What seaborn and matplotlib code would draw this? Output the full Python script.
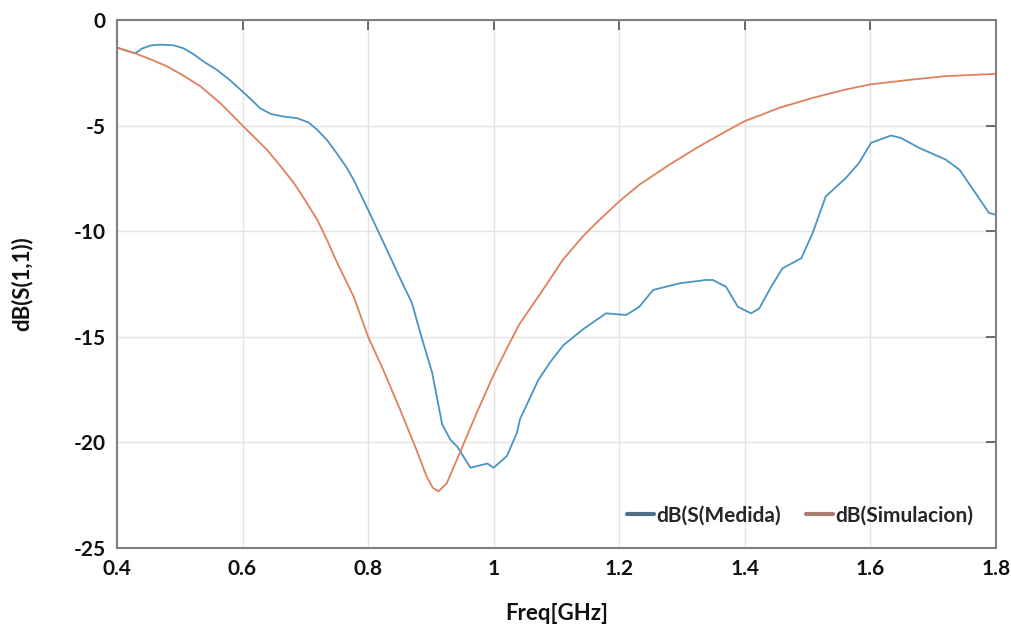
import matplotlib
matplotlib.use("Agg")
import matplotlib.pyplot as plt
import pandas as pd
import seaborn as sns

# measured S11 (blue)
freq_med = [0.400, 0.429, 0.440, 0.455, 0.469, 0.490, 0.506, 0.522, 0.538, 0.559,
            0.580, 0.600, 0.615, 0.628, 0.645, 0.665, 0.687, 0.705, 0.719, 0.735,
            0.750, 0.765, 0.777, 0.800, 0.825, 0.852, 0.870, 0.883, 0.902,
            0.918, 0.931, 0.942, 0.963, 0.990, 1.000, 1.021, 1.037, 1.042, 1.071,
            1.090, 1.111, 1.142, 1.179, 1.211, 1.232, 1.254, 1.296, 1.338, 1.349,
            1.370, 1.389, 1.410, 1.423, 1.442, 1.460, 1.490, 1.508, 1.529, 1.561,
            1.582, 1.601, 1.633, 1.649, 1.678, 1.720, 1.742, 1.771, 1.789, 1.800]
s11_med = [-1.31, -1.58, -1.35, -1.20, -1.17, -1.20, -1.34, -1.62, -1.97, -2.36,
           -2.85, -3.39, -3.80, -4.18, -4.45, -4.57, -4.65, -4.85, -5.20, -5.70,
           -6.31, -6.95, -7.57, -8.99, -10.57, -12.30, -13.41, -14.80, -16.70,
           -19.15, -19.87, -20.20, -21.20, -21.00, -21.20, -20.65, -19.55, -18.90, -17.05,
           -16.20, -15.40, -14.65, -13.89, -13.97, -13.58, -12.78, -12.47, -12.31, -12.31,
           -12.63, -13.58, -13.89, -13.66, -12.63, -11.76, -11.28, -10.09, -8.35, -7.48,
           -6.77, -5.82, -5.47, -5.59, -6.06, -6.61, -7.09, -8.35, -9.14, -9.22]

# simulated S11 (orange)
freq_sim = [0.400, 0.429, 0.455, 0.480, 0.505, 0.533, 0.565, 0.600, 0.639, 0.660,
            0.682, 0.700, 0.719, 0.735, 0.750, 0.777, 0.800, 0.824, 0.851, 0.877,
            0.893, 0.903, 0.912, 0.925, 0.946, 0.973, 1.000,
            1.021, 1.041, 1.071, 1.089, 1.110, 1.142, 1.163, 1.200, 1.232, 1.280,
            1.323, 1.370, 1.400, 1.455, 1.508, 1.561, 1.600, 1.667, 1.720, 1.800]
s11_sim = [-1.31, -1.58, -1.88, -2.20, -2.62, -3.14, -3.95, -5.00, -6.15, -6.90,
           -7.73, -8.55, -9.46, -10.45, -11.45, -13.10, -15.00, -16.56, -18.45, -20.35,
           -21.60, -22.15, -22.32, -21.95, -20.50, -18.60, -16.80,
           -15.55, -14.40, -13.10, -12.31, -11.36, -10.25, -9.62, -8.59, -7.80, -6.85,
           -6.06, -5.27, -4.79, -4.16, -3.69, -3.29, -3.05, -2.82, -2.66, -2.55]

x_ticks = [0.4, 0.6, 0.8, 1.0, 1.2, 1.4, 1.6, 1.8]
x_tick_labels = ["0.4", "0.6", "0.8", "1", "1.2", "1.4", "1.6", "1.8"]
y_ticks = [0, -5, -10, -15, -20, -25]

med = pd.DataFrame({"f": freq_med, "db": s11_med})
sim = pd.DataFrame({"f": freq_sim, "db": s11_sim})

sns.set_theme(style="whitegrid")
plt.rcParams["font.family"] = ["Lato", "DejaVu Sans"]
plt.rcParams["font.weight"] = "bold"
plt.rcParams["axes.unicode_minus"] = False

fig = plt.figure(figsize=(10.11, 6.28), dpi=100)
ax = fig.add_axes([0.1157, 0.1274, 0.8694, 0.8408])

sns.lineplot(data=med, x="f", y="db", ax=ax, color="#4a94c4", lw=1.3,
             estimator=None, sort=False, label="dB(S(Medida)")
sns.lineplot(data=sim, x="f", y="db", ax=ax, color="#e0805c", lw=1.3,
             estimator=None, sort=False, label="dB(Simulacion)")

ax.set_xlim(0.4, 1.8)
ax.set_ylim(-25, 0)
ax.set_xticks(x_ticks)
ax.set_xticklabels(x_tick_labels)
ax.set_yticks(y_ticks)
ax.grid(True, color="#e3e3e3", lw=1)
for s in ax.spines.values():
    s.set_color("#808080")
    s.set_linewidth(1.5)
ax.tick_params(direction="in", length=7, width=1.3, color="#606060",
               top=True, right=True, labelsize=15, labelcolor="#111111", pad=8)
for lab in ax.get_xticklabels() + ax.get_yticklabels():
    lab.set_fontweight("bold")

ax.set_xlabel("Freq[GHz]", fontsize=16, fontweight="bold", color="#111111")
ax.set_ylabel("dB(S(1,1))", fontsize=16, fontweight="bold", color="#111111")
ax.xaxis.set_label_coords(0.5, -0.104)
ax.yaxis.set_label_coords(-0.096, 0.5)

leg = ax.legend(loc="center", bbox_to_anchor=(0.777, 0.062), ncol=2, frameon=False,
                handlelength=1.3, handletextpad=0.1, columnspacing=1.2,
                prop={"size": 15, "weight": "bold"})
for h, c in zip(leg.legend_handles, ["#50708a", "#a87f72"]):
    h.set_color(c)
    h.set_linewidth(3)

fig.savefig("out.png", dpi=100)
